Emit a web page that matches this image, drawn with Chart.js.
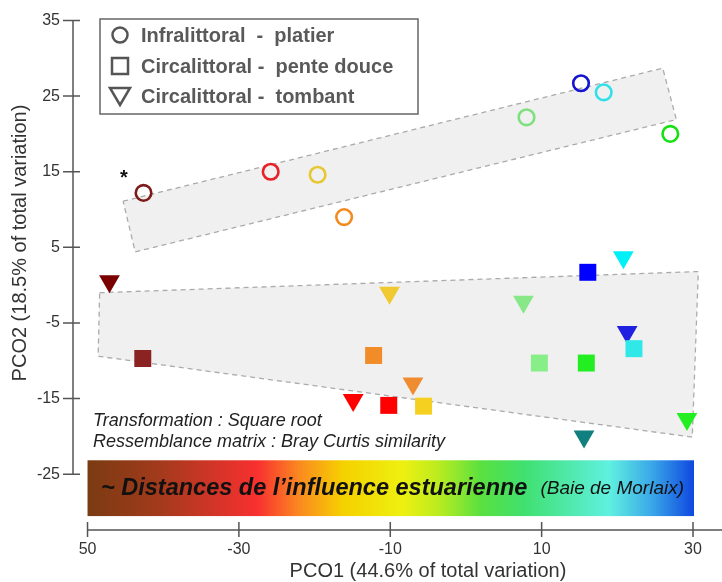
<!DOCTYPE html>
<html lang="fr">
<head>
  <meta charset="UTF-8" />
  <title>PCO - influence estuarienne</title>
  <script src="https://cdn.jsdelivr.net/npm/chart.js"></script>
  <style>
body {
  margin: 0;
  background: #ffffff;
}

.cadre {
  width: 722px;
  height: 582px;
}
  </style>
</head>
<body>
<div class="cadre">
  <canvas id="graphePco" width="722" height="582"></canvas>
</div>

<script>
// Axes
const xTicks = [-50, -30, -10, 10, 30];
const xTickLabels = ['50', '-30', '-10', '10', '30'];
const yTicks = [35, 25, 15, 5, -5, -15, -25];

// Infralittoral - platier (cercles)
const platierX = [-42.6, -25.8, -19.6, -16.1, 8.0, 15.2, 18.2, 27.0];
const platierY = [12.2, 15.0, 14.6, 9.0, 22.2, 26.7, 25.5, 20.0];
const platierCouleurs = ['#7d1a1a', '#e8202a', '#e8c832', '#f28a1e', '#80e080', '#1414d0', '#30e0e8', '#14e014'];

// Circalittoral - pente douce (carrés)
const penteX = [-42.7, -12.2, -10.2, -5.6, 9.7, 15.9, 16.1, 22.2];
const penteY = [-9.7, -9.3, -15.9, -16.0, -10.3, -10.3, 1.7, -8.4];
const penteCouleurs = ['#8b2323', '#f28c28', '#ff0000', '#f5d020', '#88ee88', '#22ee22', '#0000ff', '#30e8e8'];

// Circalittoral - tombant (triangles)
const tombantX = [-47.1, -10.1, 7.6, 20.8, 21.3, -7.0, -14.9, 15.6, 29.2];
const tombantY = [0.5, -1.0, -2.2, 3.7, -6.2, -13.0, -15.2, -20.0, -17.7];
const tombantCouleurs = ['#7a0000', '#f0c830', '#88e888', '#00f0f8', '#2020e0', '#f08c30', '#ff0000', '#0f7f7f', '#22ee22'];

// Enveloppes (pointillés)
const enveloppeHautX = [-45.3, 26.0, 27.8, -43.7, -45.3];
const enveloppeHautY = [11.1, 28.7, 21.9, 4.4, 11.1];
const enveloppeBasX = [-48.4, 30.7, 29.9, -48.6, -48.4];
const enveloppeBasY = [-1.0, 1.8, -20.1, -9.4, -1.0];

const police = "'Liberation Sans', Arial, sans-serif";
const points = (xs, ys) => xs.map((x, i) => ({ x, y: ys[i] }));

// Axes, légende, barre de couleur et textes
const habillage = {
  id: 'habillage',
  afterDraw(chart) {
    const { ctx, chartArea, scales: { x, y } } = chart;
    ctx.save();

    // axes
    ctx.strokeStyle = '#555';
    ctx.lineWidth = 1.5;
    ctx.beginPath();
    ctx.moveTo(x.getPixelForValue(-50), chartArea.bottom);
    ctx.lineTo(chart.width, chartArea.bottom);
    xTicks.forEach(v => {
      const px = x.getPixelForValue(v);
      ctx.moveTo(px, chartArea.bottom - 8);
      ctx.lineTo(px, chartArea.bottom + 7);
    });
    ctx.moveTo(chartArea.left, y.getPixelForValue(35));
    ctx.lineTo(chartArea.left, y.getPixelForValue(-25));
    yTicks.forEach(v => {
      const py = y.getPixelForValue(v);
      ctx.moveTo(chartArea.left - 10, py);
      ctx.lineTo(chartArea.left + 7, py);
    });
    ctx.stroke();

    // titres des axes
    ctx.fillStyle = '#333';
    ctx.font = `20px ${police}`;
    ctx.textAlign = 'center';
    ctx.textBaseline = 'middle';
    ctx.fillText('PCO1 (44.6% of total variation)', 428, 571);
    ctx.save();
    ctx.translate(20, 243);
    ctx.rotate(-Math.PI / 2);
    ctx.fillText('PCO2 (18.5% of total variation)', 0, 0);
    ctx.restore();

    // barre de couleur
    const bx1 = x.getPixelForValue(-50), bx2 = x.getPixelForValue(30.13);
    const by1 = y.getPixelForValue(-23.16), by2 = y.getPixelForValue(-30.54);
    const grad = ctx.createLinearGradient(bx1, 0, bx2, 0);
    [[0, '#7a3b12'], [0.12, '#a33a1c'], [0.28, '#f83030'], [0.35, '#fb8a20'], [0.42, '#f5d000'],
     [0.52, '#eef010'], [0.58, '#b8ec20'], [0.65, '#58e040'], [0.72, '#40e070'], [0.86, '#60f0e0'],
     [0.93, '#3aa8e8'], [1, '#0f48e0']].forEach(([o, c]) => grad.addColorStop(o, c));
    ctx.fillStyle = grad;
    ctx.fillRect(bx1, by1, bx2 - bx1, by2 - by1);

    const my = (by1 + by2) / 2;
    ctx.fillStyle = '#111';
    ctx.textAlign = 'left';
    ctx.font = `italic bold 23.5px ${police}`;
    ctx.fillText('~ Distances de l\u2019influence estuarienne', 101, my);
    ctx.textAlign = 'right';
    ctx.font = `italic 19px ${police}`;
    ctx.fillText('(Baie de Morlaix)', 684, my + 1);

    // notes
    ctx.textAlign = 'left';
    ctx.fillStyle = '#222';
    ctx.font = `italic 18px ${police}`;
    ctx.fillText('Transformation : Square root', 93, 421);
    ctx.fillText('Ressemblance matrix : Bray Curtis similarity', 93, 442);

    // astérisque
    ctx.fillStyle = '#111';
    ctx.font = `bold 20px ${police}`;
    ctx.textAlign = 'center';
    ctx.fillText('*', 124, 178);

    // légende
    ctx.fillStyle = '#fff';
    ctx.fillRect(100, 19, 318, 95);
    ctx.strokeStyle = '#666';
    ctx.lineWidth = 1.5;
    ctx.strokeRect(100, 19, 318, 95);
    const legende = ['Infralittoral  -  platier', 'Circalittoral -  pente douce', 'Circalittoral -  tombant'];
    const ly = [35, 66, 96];
    ctx.strokeStyle = '#555';
    ctx.lineWidth = 2.5;
    ctx.beginPath();
    ctx.arc(120, ly[0], 7.5, 0, Math.PI * 2);
    ctx.stroke();
    ctx.strokeRect(112, ly[1] - 8, 16, 16);
    ctx.beginPath();
    ctx.moveTo(110, ly[2] - 8);
    ctx.lineTo(130, ly[2] - 8);
    ctx.lineTo(120, ly[2] + 9);
    ctx.closePath();
    ctx.stroke();
    ctx.fillStyle = '#595959';
    ctx.font = `bold 20px ${police}`;
    ctx.textAlign = 'left';
    legende.forEach((t, i) => ctx.fillText(t, 141, ly[i] + 1));

    ctx.restore();
  }
};

const ctx = document.getElementById('graphePco').getContext('2d');

const enveloppe = (xs, ys) => ({
  type: 'line',
  data: points(xs, ys),
  fill: 'shape',
  backgroundColor: '#f0f0f0',
  borderColor: '#ababab',
  borderWidth: 1.3,
  borderDash: [5, 4],
  pointRadius: 0,
  tension: 0,
  order: 10
});

new Chart(ctx, {
  type: 'scatter',
  data: {
    datasets: [
      enveloppe(enveloppeHautX, enveloppeHautY),
      enveloppe(enveloppeBasX, enveloppeBasY),
      {
        label: 'Infralittoral - platier',
        data: points(platierX, platierY),
        pointStyle: 'circle',
        pointRadius: 7.8,
        pointBorderWidth: 2.6,
        pointBackgroundColor: 'rgba(0,0,0,0)',
        pointBorderColor: platierCouleurs,
        clip: false
      },
      {
        label: 'Circalittoral - pente douce',
        data: points(penteX, penteY),
        pointStyle: 'rect',
        pointRadius: 12,
        pointBorderWidth: 0,
        pointBackgroundColor: penteCouleurs,
        pointBorderColor: penteCouleurs,
        clip: false
      },
      {
        label: 'Circalittoral - tombant',
        data: points(tombantX, tombantY),
        pointStyle: 'triangle',
        pointRotation: 180,
        pointRadius: 12,
        pointBorderWidth: 0,
        pointBackgroundColor: tombantCouleurs,
        pointBorderColor: tombantCouleurs,
        clip: false
      }
    ]
  },
  options: {
    responsive: false,
    animation: false,
    devicePixelRatio: 1,
    events: [],
    layout: { autoPadding: false, padding: { top: 20.5, right: 0, bottom: 0, left: 0 } },
    plugins: {
      legend: { display: false },
      tooltip: { enabled: false }
    },
    scales: {
      x: {
        type: 'linear',
        min: -51.92,
        max: 33.83,
        grid: { display: false, drawTicks: false },
        border: { display: false },
        afterBuildTicks: s => { s.ticks = xTicks.map(v => ({ value: v })); },
        afterFit: s => { s.height = 52; s.paddingLeft = 0; s.paddingRight = 0; },
        ticks: {
          autoSkip: false,
          maxRotation: 0,
          padding: 10,
          color: '#333',
          font: { size: 16, family: police },
          callback: v => xTickLabels[xTicks.indexOf(v)]
        }
      },
      y: {
        type: 'linear',
        min: -32.38,
        max: 35,
        grid: { display: false, drawTicks: false },
        border: { display: false },
        afterBuildTicks: s => { s.ticks = yTicks.map(v => ({ value: v })); },
        afterFit: s => { s.width = 73; s.paddingTop = 0; s.paddingBottom = 0; },
        ticks: {
          autoSkip: false,
          padding: 13,
          color: '#333',
          font: { size: 16, family: police }
        }
      }
    }
  },
  plugins: [habillage]
});
</script>

</body>
</html>
